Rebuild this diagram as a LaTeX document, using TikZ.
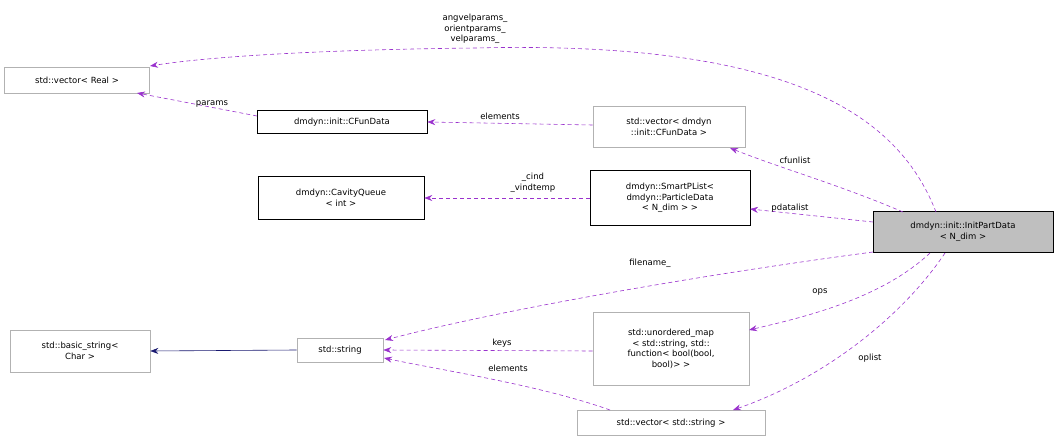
\documentclass[tikz,border=0pt]{standalone}
\usepackage{fontspec}
\setmainfont{DejaVu Sans}
\usetikzlibrary{arrows.meta}
\definecolor{edgep}{HTML}{9A32CD}
\definecolor{navy}{HTML}{191970}
\begin{document}
\begin{tikzpicture}[x=1pt,y=-1pt,font=\fontsize{8.5}{10.5}\selectfont,
  box/.style={draw=#1,fill=white,inner sep=0pt,align=center,line width=0.6pt},
  dep/.style={draw=edgep,dashed,dash pattern=on 4pt off 3pt,-{Stealth[length=8pt,width=6pt]},line width=0.6pt},
  lab/.style={align=center,inner sep=1pt}]
\useasboundingbox (0,0) rectangle (1060,443);
\node[box=gray!60,minimum width=145,minimum height=26] (vr) at (77,80) {std::vector< Real >};
\node[box=black,minimum width=170,minimum height=23] (cf) at (342,122) {dmdyn::init::CFunData};
\node[box=gray!60,minimum width=152,minimum height=41] (vc) at (669,127) {std::vector< dmdyn\\::init::CFunData >};
\node[box=black,minimum width=166,minimum height=43] (cq) at (341,198) {dmdyn::CavityQueue\\< int >};
\node[box=black,minimum width=160,minimum height=55] (sp) at (670,198) {dmdyn::SmartPList<\\dmdyn::ParticleData\\< N\_dim > >};
\node[box=black,fill=gray!50,minimum width=180,minimum height=41] (ip) at (963,232) {dmdyn::init::InitPartData\\< N\_dim >};
\node[box=gray!60,minimum width=140,minimum height=42] (bs) at (80,351) {std::basic\_string<\\Char >};
\node[box=gray!60,minimum width=86,minimum height=24] (st) at (340,350) {std::string};
\node[box=gray!60,minimum width=156,minimum height=73] (um) at (671,349) {std::unordered\_map\\< std::string, std::\\function< bool(bool,\\bool)> >};
\node[box=gray!60,minimum width=188,minimum height=25] (vs) at (671,423) {std::vector< std::string >};
\coordinate (ipa) at (936,212);
\coordinate (vra) at (150,66);
\coordinate (cfa) at (257,116);
\coordinate (vrb) at (137,93);
\coordinate (ipb) at (873,222);
\coordinate (spa) at (750,209);

\draw[dep] (ipa) .. controls (900,120) and (800,40) .. (475,48) .. controls (300,50) and (200,58) .. (vra);
\node[lab] at (475,29) {angvelparams\_\\orientparams\_\\velparams\_};
\draw[dep] (cfa) -- (vrb);
\node[lab] at (212,104) {params};
\draw[dep] (vc.west) ++(0,-2) -- (cf.east);
\node[lab] at (500,116) {elements};
\draw[dep] (903,212) .. controls (840,185) and (780,168) .. (730,148);
\node[lab] at (795,160) {cfunlist};
\draw[dep] (sp.west) -- (cq.east);
\node[lab] at (533,183) {\_cind\\\_vindtemp};
\draw[dep] (ipb) -- (spa);
\node[lab] at (790,208) {pdatalist};
\draw[dep] (873,252) .. controls (700,275) and (500,310) .. (385,340);
\node[lab] at (650,263) {filename\_};
\draw[dep] (930,253) .. controls (880,300) and (800,318) .. (749,330);
\node[lab] at (820,292) {ops};
\draw[dep] (945,253) .. controls (900,320) and (820,380) .. (733,410);
\node[lab] at (870,358) {oplist};
\draw[dep] (um.west) ++(0,2) -- (st.east);
\node[lab] at (502,343) {keys};
\draw[dep] (610,410) .. controls (540,385) and (440,370) .. (384,358);
\node[lab] at (508,368) {elements};
\draw[draw=navy,-{Stealth[length=8pt,width=6pt]},line width=0.6pt] (st.west) -- (bs.east);
\end{tikzpicture}
\end{document}
